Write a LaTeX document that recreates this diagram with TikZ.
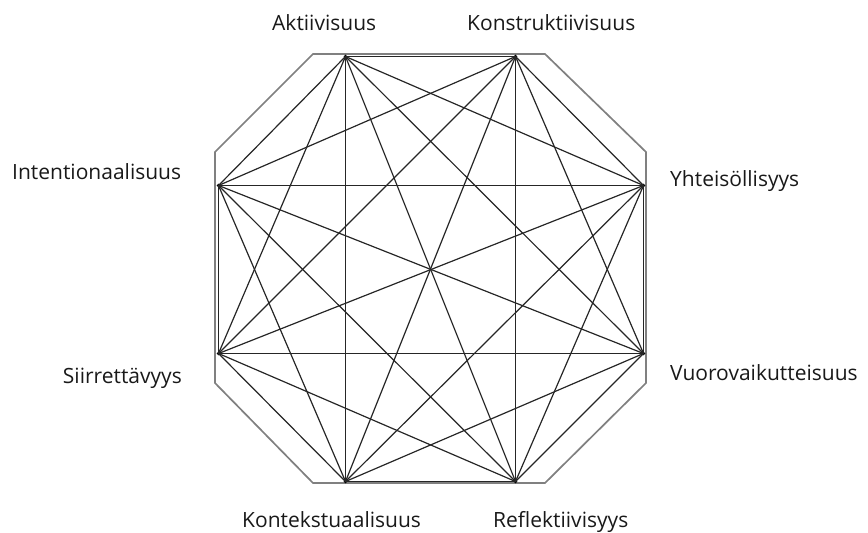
\documentclass[tikz,border=0pt]{standalone}
\usepackage{fontspec}
\setmainfont{Open Sans}
\usepackage{tikz}
\usetikzlibrary{positioning}

\begin{document}
\begin{tikzpicture}[x=1pt, y=-1pt, font=\fontsize{21}{24}\selectfont,
  dot/.style={circle, fill, inner sep=1.4pt},
  link/.style={draw=black!85, line width=1.2pt},
  frame/.style={draw=black!50, line width=1.7pt},
  lbl/.style={inner sep=0pt, text=black!90}]
\useasboundingbox (0,0) rectangle (868,533);
%% octagon frame
\draw[frame] (313,54) -- (545,54) -- (646,152) -- (646,383) -- (545,483)
  -- (313,483) -- (215,383) -- (215,152) -- cycle;
%% vertices
\node[dot] (akt) at (345.5,56.5) {};
\node[dot] (kon) at (515.5,56.5) {};
\node[dot] (yht) at (643.5,185.5) {};
\node[dot] (vuo) at (643.5,353.5) {};
\node[dot] (ref) at (515.5,481.5) {};
\node[dot] (kot) at (345.5,481.5) {};
\node[dot] (sii) at (218.5,353.5) {};
\node[dot] (int) at (218.5,185.5) {};
%% labels
\node[lbl, anchor=base west] (lakt) at (272,30) {Aktiivisuus};
\node[lbl, anchor=base west] (lkon) at (467,30) {Konstruktiivisuus};
\node[lbl, anchor=base west] (lyht) at (670,186) {Yhteisöllisyys};
\node[lbl, anchor=base west] (lvuo) at (670,380) {Vuorovaikutteisuus};
\node[lbl, anchor=base west] (lref) at (493,527) {Reflektiivisyys};
\node[lbl, anchor=base west] (lkot) at (242,527) {Kontekstuaalisuus};
\node[lbl, anchor=base east] (lsii) at (182,383) {Siirrettävyys};
\node[lbl, anchor=base west] (lint) at (12,179) {Intentionaalisuus};
%% all links
\draw[link] (akt.center) -- (kon.center);
\draw[link] (akt.center) -- (yht.center);
\draw[link] (akt.center) -- (vuo.center);
\draw[link] (akt.center) -- (ref.center);
\draw[link] (akt.center) -- (kot.center);
\draw[link] (akt.center) -- (sii.center);
\draw[link] (akt.center) -- (int.center);
\draw[link] (kon.center) -- (yht.center);
\draw[link] (kon.center) -- (vuo.center);
\draw[link] (kon.center) -- (ref.center);
\draw[link] (kon.center) -- (kot.center);
\draw[link] (kon.center) -- (sii.center);
\draw[link] (kon.center) -- (int.center);
\draw[link] (yht.center) -- (vuo.center);
\draw[link] (yht.center) -- (ref.center);
\draw[link] (yht.center) -- (kot.center);
\draw[link] (yht.center) -- (sii.center);
\draw[link] (yht.center) -- (int.center);
\draw[link] (vuo.center) -- (ref.center);
\draw[link] (vuo.center) -- (kot.center);
\draw[link] (vuo.center) -- (sii.center);
\draw[link] (vuo.center) -- (int.center);
\draw[link] (ref.center) -- (kot.center);
\draw[link] (ref.center) -- (sii.center);
\draw[link] (ref.center) -- (int.center);
\draw[link] (kot.center) -- (sii.center);
\draw[link] (kot.center) -- (int.center);
\draw[link] (sii.center) -- (int.center);
\end{tikzpicture}
\end{document}
